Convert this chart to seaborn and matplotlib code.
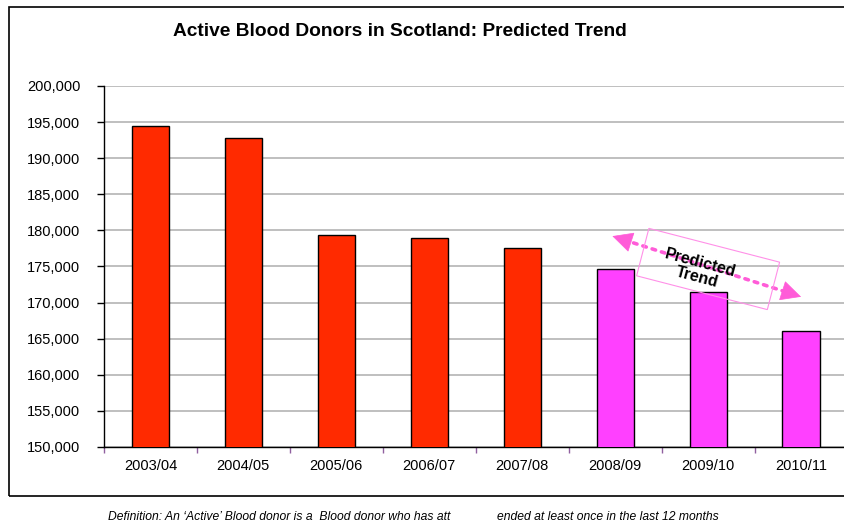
import numpy as np
import pandas as pd
import matplotlib
matplotlib.use('Agg')
import matplotlib.pyplot as plt
import matplotlib.patches as patches
import matplotlib.ticker as ticker
import matplotlib.transforms as mtransforms
import seaborn as sns

# 数据
years = ['2003/04', '2004/05', '2005/06', '2006/07', '2007/08', '2008/09', '2009/10', '2010/11']
donors = [194400, 192750, 179400, 178900, 177500, 174600, 171500, 166000]
kind = ['actual'] * 5 + ['predicted'] * 3

RED = '#FF2A00'
MAGENTA = '#FF40FF'
ARROW_PINK = '#FF5CD8'

sns.set_style('white')
plt.rcParams['font.family'] = ['Liberation Sans', 'DejaVu Sans']
plt.rcParams['text.color'] = 'black'
plt.rcParams['xtick.color'] = 'black'
plt.rcParams['ytick.color'] = 'black'

df = pd.DataFrame({'year': years, 'donors': donors, 'kind': kind})

fig = plt.figure(figsize=(8.45, 5.24), dpi=100)
ax = fig.add_axes([0.123, 0.147, 0.88, 0.689])

sns.barplot(data=df, x='year', y='donors', hue='kind',
            palette={'actual': RED, 'predicted': MAGENTA}, saturation=1,
            dodge=False, width=0.4, edgecolor='black', linewidth=1,
            legend=False, ax=ax, zorder=3)

ax.set_ylim(150000, 200000)
ax.set_xlim(-0.5, 7.5)
ax.yaxis.set_major_locator(ticker.MultipleLocator(5000))
ax.yaxis.set_major_formatter(ticker.FuncFormatter(lambda v, p: f'{int(v):,}'))
ax.grid(axis='y', color='#B4B4B4', linewidth=1.2, zorder=0)
ax.set_axisbelow(True)
ax.set_xlabel('')
ax.set_ylabel('')

for s in ['top', 'right']:
    ax.spines[s].set_visible(False)
ax.spines['left'].set_color('black')
ax.spines['bottom'].set_color('black')
ax.spines['left'].set_linewidth(1)
ax.spines['bottom'].set_linewidth(1)

ax.tick_params(axis='y', left=True, length=5, width=1, color='black',
               pad=12, labelsize=10.5)
ax.tick_params(axis='x', which='major', length=0, pad=9, labelsize=10.5)
ax.set_xticks(np.arange(-0.5, 8, 1), minor=True)
ax.tick_params(axis='x', which='minor', bottom=True, length=4, width=1, color='#9060A0')

# 标题
fig.text(0.473, 0.939, 'Active Blood Donors in Scotland: Predicted Trend',
         ha='center', va='center', fontsize=13.8, fontweight='bold')

# 预测趋势箭头：虚线 + 两端实心三角
p_start = (4.97, 179200)
p_end = (7.0, 170800)
ax.annotate('', xy=p_end, xytext=p_start,
            arrowprops=dict(arrowstyle='-', color=ARROW_PINK, lw=2.6,
                            linestyle=(0, (1, 1.7)), shrinkA=9, shrinkB=9), zorder=5)
head = dict(arrowstyle='-|>,head_length=0.9,head_width=0.45', color=ARROW_PINK,
            lw=0.5, mutation_scale=15, shrinkA=0, shrinkB=0)
ax.annotate('', xy=p_start, xytext=(5.15, 178450), arrowprops=head, zorder=6)
ax.annotate('', xy=p_end, xytext=(6.82, 171550), arrowprops=head, zorder=6)

# 旋转文本框
fig.canvas.draw()
cx, cy = ax.transData.transform((6.0, 174650))
box_tr = mtransforms.Affine2D().rotate_deg(-14.5).translate(cx, cy)
fig.patches.append(patches.Rectangle((-67.5, -24.5), 135, 49, transform=box_tr,
                                     fill=False, edgecolor='#FF90E8', linewidth=0.8,
                                     zorder=6))
ax.text(5.9, 174500, 'Predicted\nTrend', rotation=-15, ha='center', va='center',
        multialignment='center', fontsize=11.5, fontweight='bold', linespacing=1.0,
        rotation_mode='anchor', zorder=7)

# 外框
fig.patches.append(patches.Rectangle((9 / 845, 1 - 496 / 524), 1.0, (496 - 7) / 524,
                                     transform=fig.transFigure, fill=False,
                                     edgecolor='black', linewidth=1.2))

# 脚注
fig.text(108 / 845, 1 - 517 / 524,
         "Definition: An \u2018Active\u2019 Blood donor is a  Blood donor who has att",
         ha='left', va='center', fontsize=8.7, style='italic')
fig.text(497 / 845, 1 - 517 / 524, 'ended at least once in the last 12 months',
         ha='left', va='center', fontsize=8.7, style='italic')

plt.savefig('out.png', dpi=100)
plt.close()
